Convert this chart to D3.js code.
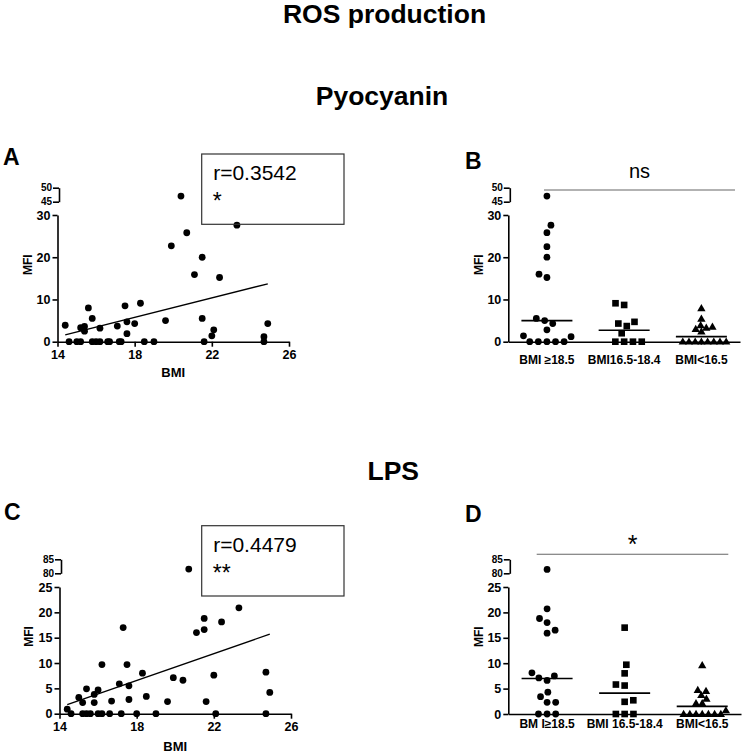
<!DOCTYPE html>
<html>
<head>
<meta charset="utf-8">
<script src="https://cdn.jsdelivr.net/npm/d3@7"></script>
<style>
  html, body { margin: 0; padding: 0; background: #fff; }
  svg { display: block; }
  text { font-family: "Liberation Sans", Arial, Helvetica, sans-serif; }
</style>
</head>
<body>
<svg id="chart" width="743" height="753"></svg>
<script>
// ---------------- DATA ----------------
const mainTitle = "ROS production";
const sectionTitles = ["Pyocyanin", "LPS"];
const panelLetters = ["A", "B", "C", "D"];

const xTicks = [14, 18, 22, 26];
const pyoYTicks = [0, 10, 20, 30];
const pyoBreakTicks = [45, 50];
const lpsYTicks = [0, 5, 10, 15, 20, 25];
const lpsBreakTicks = [80, 85];

// Panel A: Pyocyanin, BMI vs MFI
const pyoBMI = [14.4,14.6,15.0,15.2,15.2,15.4,15.4,15.6,15.8,15.8,16.0,16.2,16.2,16.6,16.7,17.1,17.2,17.3,17.5,17.6,17.6,18.0,18.3,18.5,19.0,19.6,19.9,20.4,20.7,21.1,21.5,21.5,21.6,22.0,22.1,22.4,23.3,24.7,24.7,24.9];
const pyoMFI = [3.9,0,0,0,3.3,3.6,2.5,8.0,5.5,0,0,0,3.2,0,0,3.7,0,0,8.5,4.7,1.9,4.3,9.1,0,0,5.0,22.7,47.0,25.8,15.9,20.0,5.5,0,1.4,2.8,15.2,27.6,1.2,0,4.3];
const pyoFitBMI = [14.4, 24.9];
const pyoFitMFI = [1.6, 13.7];
const pyoCorr = ["r=0.3542", "*"];

// Panel C: LPS, BMI vs MFI
const lpsBMI = [14.4,14.6,15.0,15.2,15.2,15.4,15.4,15.6,15.8,15.8,16.0,16.0,16.2,16.2,16.6,16.7,17.1,17.2,17.3,17.5,17.6,17.6,18.0,18.3,18.5,19.0,19.6,19.9,20.4,20.7,21.1,21.5,21.5,21.6,22.0,22.1,22.4,23.3,24.7,24.7,24.9];
const lpsMFI = [0.9,0,3.2,2.2,0,4.9,0,0,2.2,3.8,4.7,0,9.7,0,0,2.5,5.9,0,17.0,9.7,5.5,2.8,0,8.0,3.4,0,2.4,7.1,6.6,81.5,16.0,18.8,16.6,2.4,7.6,0,18.1,20.9,8.2,0,4.2];
const lpsFitBMI = [14.4, 24.9];
const lpsFitMFI = [1.8, 15.7];
const lpsCorr = ["r=0.4479", "**"];

// Panel B: Pyocyanin by BMI group
const groupsB = ["BMI \u226518.5", "BMI16.5-18.4", "BMI<16.5"];
const pyoHigh = [47.0,27.6,25.8,22.5,20.0,16.0,15.2,5.5,5.0,4.3,2.8,1.4,1.2,0,0,0,0,0];
const pyoMid  = [9.1,8.7,4.7,4.3,3.7,2.0,0,0,0,0];
const pyoLow  = [7.9,5.4,3.9,3.5,3.3,3.0,2.4,0,0,0,0,0,0,0,0];
const pyoMedians = [5.0, 2.7, 1.2];
const pyoSig = "ns";

// Panel D: LPS by BMI group
const groupsD = ["BM I\u226518.5", "BMI 16.5-18.4", "BMI<16.5"];
const lpsHigh = [81.4,20.7,18.8,18.0,16.5,15.9,8.1,7.5,7.1,6.6,4.3,3.4,2.3,2.3,0,0,0];
const lpsMid  = [17.0,9.7,8.0,5.8,5.6,2.7,2.4,0,0,0];
const lpsLow  = [9.6,4.7,4.5,3.7,3.0,2.1,2.1,0.7,0,0,0,0,0,0,0];
const lpsMedians = [7.0, 4.1, 1.5];
const lpsSig = "*";

const yLabel = "MFI";
const xLabel = "BMI";

// ---------------- DRAW ----------------
const svg = d3.select("#chart");
const FONT_AX = 12.5;

svg.append("rect").attr("width", 743).attr("height", 753).attr("fill", "#fff");

function boldText(g, x, y, txt, size, anchor) {
  return g.append("text").attr("x", x).attr("y", y).text(txt)
    .attr("font-size", size).attr("font-weight", "bold")
    .attr("text-anchor", anchor || "middle").attr("fill", "#000");
}

// titles
boldText(svg, 384.5, 23, mainTitle, 26.5);
boldText(svg, 382, 105, sectionTitles[0], 26.5);
boldText(svg, 367.5, 480, sectionTitles[1], 26.5, "start");

// panel letters
boldText(svg, 3, 165, panelLetters[0], 23, "start");
boldText(svg, 465, 169, panelLetters[1], 23, "start");
boldText(svg, 4, 520, panelLetters[2], 23, "start");
boldText(svg, 465, 522, panelLetters[3], 23, "start");

function styleAxis(g, fs) {
  g.selectAll("path.domain").attr("stroke", "#000").attr("stroke-width", 1.6);
  g.selectAll(".tick line").attr("stroke", "#000").attr("stroke-width", 1.6);
  g.selectAll(".tick text").attr("font-size", fs).attr("font-weight", "bold")
    .attr("fill", "#000").attr("font-family", '"Liberation Sans", Arial, sans-serif');
}

// Broken y-axis: lower & upper scales
function makeBrokenY(g, xPos, lower, upper, lowerTicks, upperTicks) {
  const ga = g.append("g").attr("transform", `translate(${xPos},0)`)
    .call(d3.axisLeft(lower).tickValues(lowerTicks).tickFormat(d3.format("d"))
      .tickSize(5).tickSizeOuter(0).tickPadding(2));
  styleAxis(ga, FONT_AX);
  const gu = g.append("g").attr("transform", `translate(${xPos + 1.5},0)`)
    .call(d3.axisLeft(upper).tickValues(upperTicks).tickFormat(d3.format("d"))
      .tickSize(6).tickSizeOuter(0).tickPadding(1));
  styleAxis(gu, 10);
  return (v) => v > lower.domain()[1] ? upper(v) : lower(v);
}

function yTitle(g, x, y) {
  g.append("text").attr("transform", `translate(${x},${y}) rotate(-90)`)
    .attr("text-anchor", "middle").attr("font-size", 12).attr("font-weight", "bold")
    .attr("fill", "#000").text(yLabel);
}

// ---------- Scatter panels ----------
function scatterPanel(cfg) {
  const g = svg.append("g");
  const x = d3.scaleLinear().domain([xTicks[0], xTicks[xTicks.length - 1]]).range(cfg.xRange);
  const lower = d3.scaleLinear().domain([cfg.yTicks[0], cfg.yTicks[cfg.yTicks.length - 1]]).range(cfg.lowerRange);
  const upper = d3.scaleLinear().domain([cfg.breakTicks[0], cfg.breakTicks[1]]).range(cfg.upperRange);

  const gx = g.append("g").attr("transform", `translate(0,${cfg.lowerRange[0]})`)
    .call(d3.axisBottom(x).tickValues(xTicks).tickSize(5).tickSizeOuter(0).tickPadding(3));
  styleAxis(gx, FONT_AX);
  const y = makeBrokenY(g, cfg.xRange[0], lower, upper, cfg.yTicks, cfg.breakTicks);

  yTitle(g, cfg.yTitleX, (cfg.lowerRange[0] + cfg.upperRange[1]) / 2);
  boldText(g, (cfg.xRange[0] + cfg.xRange[1]) / 2, cfg.xTitleY, xLabel, 13);

  g.append("line")
    .attr("x1", x(cfg.fitX[0])).attr("y1", y(cfg.fitY[0]))
    .attr("x2", x(cfg.fitX[1])).attr("y2", y(cfg.fitY[1]))
    .attr("stroke", "#000").attr("stroke-width", 1.4);

  g.selectAll("circle.pt").data(cfg.xs.map((v, i) => [v, cfg.ys[i]]))
    .join("circle").attr("class", "pt")
    .attr("cx", d => x(d[0])).attr("cy", d => y(d[1])).attr("r", 3.4).attr("fill", "#000");

  const b = cfg.box;
  g.append("rect").attr("x", b[0]).attr("y", b[1]).attr("width", b[2]).attr("height", b[3])
    .attr("fill", "none").attr("stroke", "#333").attr("stroke-width", 1.2);
  g.append("text").attr("x", b[0] + 11.5).attr("y", b[1] + 26).attr("font-size", 21)
    .attr("fill", "#000").text(cfg.corr[0]);
  g.append("text").attr("x", b[0] + 11).attr("y", b[1] + 55).attr("font-size", 23)
    .attr("fill", "#000").text(cfg.corr[1]);
}

scatterPanel({
  xs: pyoBMI, ys: pyoMFI, fitX: pyoFitBMI, fitY: pyoFitMFI, corr: pyoCorr,
  xRange: [57.5, 289], lowerRange: [341.7, 215], upperRange: [201.7, 187.7],
  yTicks: pyoYTicks, breakTicks: pyoBreakTicks,
  yTitleX: 32, xTitleY: 377, box: [201.7, 154, 142.3, 70.3]
});
scatterPanel({
  xs: lpsBMI, ys: lpsMFI, fitX: lpsFitBMI, fitY: lpsFitMFI, corr: lpsCorr,
  xRange: [59.5, 291], lowerRange: [713.7, 587], upperRange: [573.3, 559.3],
  yTicks: lpsYTicks, breakTicks: lpsBreakTicks,
  yTitleX: 33, xTitleY: 751, box: [201.7, 525.7, 142.3, 70.3]
});

// ---------- Column scatter panels ----------
function swarm(values, yFn, D) {
  const placed = [];
  const out = new Array(values.length);
  const order = values.map((v, i) => i).sort((a, b) => values[a] - values[b]);
  let flip = 1;
  for (const i of order) {
    const yy = yFn(values[i]);
    const iv = [];
    for (const p of placed) {
      const dy = Math.abs(p.y - yy);
      if (dy < D) { const h = Math.sqrt(D * D - dy * dy); iv.push([p.dx - h, p.dx + h]); }
    }
    const cands = [0];
    iv.forEach(([a, b]) => cands.push(a, b));
    const valid = cands.filter(c => iv.every(([a, b]) => c <= a + 1e-6 || c >= b - 1e-6));
    valid.sort((a, b) => {
      const d = Math.abs(a) - Math.abs(b);
      if (Math.abs(d) > 1e-6) return d;
      return flip > 0 ? b - a : a - b;
    });
    const dx = valid[0];
    if (Math.abs(dx) > 1e-6) flip = -flip;
    placed.push({ y: yy, dx });
    out[i] = { v: values[i], y: yy, dx };
  }
  return out;
}

function columnPanel(cfg) {
  const g = svg.append("g");
  const x = d3.scaleBand().domain(cfg.groups).range(cfg.xRange);
  const lower = d3.scaleLinear().domain([cfg.yTicks[0], cfg.yTicks[cfg.yTicks.length - 1]]).range(cfg.lowerRange);
  const upper = d3.scaleLinear().domain([cfg.breakTicks[0], cfg.breakTicks[1]]).range(cfg.upperRange);

  const gx = g.append("g").attr("transform", `translate(0,${cfg.lowerRange[0]})`)
    .call(d3.axisBottom(x).tickSize(3).tickSizeOuter(0).tickPadding(cfg.labelPad));
  styleAxis(gx, 12);
  const y = makeBrokenY(g, cfg.xRange[0], lower, upper, cfg.yTicks, cfg.breakTicks);

  yTitle(g, cfg.yTitleX, (cfg.lowerRange[0] + cfg.upperRange[1]) / 2);

  const shapes = [d3.symbolCircle, d3.symbolSquare, d3.symbolTriangle];
  const sizes = [36, 44, 30];
  const spacing = [8.6, 8.8, 6.2];
  cfg.series.forEach((vals, gi) => {
    const cx = x(cfg.groups[gi]) + x.bandwidth() / 2;
    const pts = swarm(vals, y, spacing[gi]);
    g.selectAll(null).data(pts).join("path")
      .attr("d", d3.symbol(shapes[gi], sizes[gi]))
      .attr("transform", d => `translate(${cx + d.dx},${d.y + (gi === 2 ? 0.5 : 0)})`)
      .attr("fill", "#000");
    g.append("line")
      .attr("x1", cx - 25.5).attr("x2", cx + 25.5)
      .attr("y1", y(cfg.medians[gi])).attr("y2", y(cfg.medians[gi]))
      .attr("stroke", "#000").attr("stroke-width", 1.6);
  });

  g.append("line").attr("x1", cfg.sigBar[0]).attr("x2", cfg.sigBar[1])
    .attr("y1", cfg.sigBar[2]).attr("y2", cfg.sigBar[2])
    .attr("stroke", "#666").attr("stroke-width", 1.1);
  g.append("text").attr("x", (cfg.sigBar[0] + cfg.sigBar[1]) / 2).attr("y", cfg.sigY)
    .attr("text-anchor", "middle").attr("font-size", cfg.sigSize).attr("fill", "#000").text(cfg.sig);
}

columnPanel({
  groups: groupsB, series: [pyoHigh, pyoMid, pyoLow], medians: pyoMedians,
  xRange: [508.3, 740], lowerRange: [341.7, 215], upperRange: [201.7, 187.7],
  yTicks: pyoYTicks, breakTicks: pyoBreakTicks, labelPad: 11,
  yTitleX: 483, sigBar: [544, 735, 190], sig: pyoSig, sigY: 178, sigSize: 20
});
columnPanel({
  groups: groupsD, series: [lpsHigh, lpsMid, lpsLow], medians: lpsMedians,
  xRange: [508.3, 741], lowerRange: [714, 587], upperRange: [573.3, 559.3],
  yTicks: lpsYTicks, breakTicks: lpsBreakTicks, labelPad: 2,
  yTitleX: 483, sigBar: [536.7, 728.3, 554.3], sig: lpsSig, sigY: 553, sigSize: 25
});
</script>
</body>
</html>
